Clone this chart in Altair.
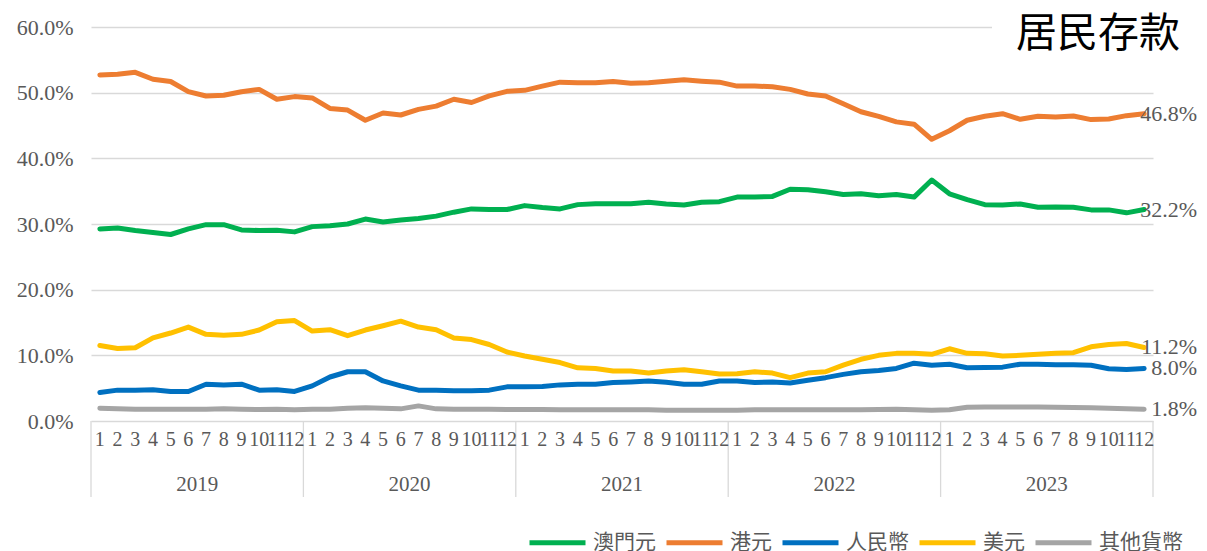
import altair as alt
import pandas as pd

years = ["2019", "2020", "2021", "2022", "2023"]
month_labels = [str(m) for m in range(1, 13)]
series_names = ["澳門元", "港元", "人民幣", "美元", "其他貨幣"]
series_colors = ["#00B050", "#ED7D31", "#0070C0", "#FFC000", "#A5A5A5"]
y_ticks = [0, 10, 20, 30, 40, 50, 60]
chart_title = "居民存款"

mop = [29.25, 29.4, 29.0, 28.7, 28.4, 29.25, 29.9, 29.9, 29.1, 29.0, 29.05, 28.8,
       29.6, 29.75, 30.0, 30.75, 30.3, 30.6, 30.85, 31.2, 31.8, 32.3, 32.2, 32.2,
       32.8, 32.5, 32.3, 32.95, 33.1, 33.1, 33.1, 33.3, 33.05, 32.9, 33.3, 33.4,
       34.1, 34.1, 34.2, 35.3, 35.2, 34.9, 34.5, 34.6, 34.3, 34.5, 34.1, 36.7,
       34.6, 33.7, 32.95, 32.9, 33.05, 32.55, 32.6, 32.55, 32.15, 32.15, 31.7, 32.2]
hkd = [52.7, 52.8, 53.1, 52.05, 51.7, 50.15, 49.5, 49.6, 50.15, 50.5, 49.0, 49.4,
       49.2, 47.6, 47.35, 45.8, 46.9, 46.6, 47.45, 47.95, 49.0, 48.5, 49.5, 50.2,
       50.35, 51.0, 51.6, 51.5, 51.5, 51.7, 51.45, 51.5, 51.75, 51.95, 51.75, 51.6,
       51.0, 51.0, 50.9, 50.5, 49.8, 49.5, 48.3, 47.1, 46.4, 45.55, 45.2, 42.9,
       44.2, 45.8, 46.4, 46.8, 45.95, 46.4, 46.3, 46.45, 45.9, 46.0, 46.5, 46.8]
rmb = [4.35, 4.7, 4.7, 4.75, 4.5, 4.5, 5.6, 5.5, 5.6, 4.7, 4.75, 4.5,
       5.35, 6.7, 7.5, 7.5, 6.1, 5.35, 4.7, 4.7, 4.6, 4.6, 4.7, 5.2,
       5.2, 5.25, 5.5, 5.6, 5.6, 5.85, 5.95, 6.1, 5.9, 5.6, 5.6, 6.1,
       6.1, 5.85, 5.95, 5.8, 6.2, 6.6, 7.1, 7.5, 7.7, 8.0, 8.8, 8.5,
       8.65, 8.1, 8.15, 8.2, 8.65, 8.65, 8.55, 8.55, 8.5, 7.95, 7.85, 8.0]
usd = [11.5, 11.05, 11.15, 12.65, 13.4, 14.3, 13.2, 13.05, 13.2, 13.85, 15.1, 15.3,
       13.7, 13.9, 13.0, 13.85, 14.5, 15.2, 14.3, 13.9, 12.65, 12.4, 11.65, 10.5,
       9.9, 9.4, 8.9, 8.1, 8.0, 7.6, 7.6, 7.3, 7.6, 7.8, 7.5, 7.15,
       7.2, 7.5, 7.3, 6.6, 7.3, 7.5, 8.5, 9.4, 10.0, 10.3, 10.3, 10.15,
       11.0, 10.3, 10.25, 9.9, 10.0, 10.15, 10.3, 10.4, 11.3, 11.65, 11.8, 11.2]
other = [1.95, 1.85, 1.8, 1.8, 1.8, 1.8, 1.8, 1.85, 1.8, 1.75, 1.8, 1.7,
         1.8, 1.8, 1.95, 2.0, 1.95, 1.85, 2.3, 1.85, 1.8, 1.8, 1.8, 1.75,
         1.75, 1.75, 1.7, 1.7, 1.7, 1.7, 1.7, 1.7, 1.65, 1.65, 1.65, 1.65,
         1.65, 1.7, 1.7, 1.7, 1.7, 1.7, 1.7, 1.7, 1.75, 1.8, 1.7, 1.65,
         1.7, 2.1, 2.15, 2.15, 2.15, 2.15, 2.1, 2.05, 2.0, 1.95, 1.85, 1.8]

W, H = 1062, 394
N = len(mop)

rows = []
for k, (name, vals) in enumerate(zip(series_names, [mop, hkd, rmb, usd, other])):
    for i, v in enumerate(vals):
        rows.append({"idx": i, "series": name, "value": v, "k": k})
df = pd.DataFrame(rows)
last_df = df[df["idx"] == N - 1].copy()

month_df = pd.DataFrame({"idx": list(range(N)), "label": month_labels * len(years)})
year_df = pd.DataFrame({"pos": [12 * k + 5.5 for k in range(len(years))], "year": years})
sep_df = pd.DataFrame({"pos": [12 * k - 0.5 for k in range(len(years) + 1)]})
title_df = pd.DataFrame({"t": [chart_title]})

xscale = alt.Scale(domain=[-0.5, N - 0.5], nice=False, zero=False)
yscale = alt.Scale(domain=[0, 60], nice=False)
GRAY = "#D9D9D9"
TXT = "#595959"
SERIF = "Liberation Serif"
CJK = "Noto Sans CJK TC"

lines = alt.Chart(df).mark_line(strokeWidth=5, strokeCap="round", strokeJoin="round").encode(
    x=alt.X("idx:Q", scale=xscale, axis=None),
    y=alt.Y("value:Q", scale=yscale,
            axis=alt.Axis(values=y_ticks, labelExpr="format(datum.value, '.1f') + '%'",
                          grid=True, gridColor=GRAY, gridWidth=1.3, domain=False, ticks=False,
                          labelPadding=18, labelFont=SERIF, labelFontSize=22, labelColor=TXT,
                          title=None)),
    color=alt.Color("series:N", sort=series_names,
                    scale=alt.Scale(domain=series_names, range=series_colors),
                    legend=alt.Legend(orient="none", legendX=436, legendY=485,
                                      direction="horizontal", title=None,
                                      symbolType="stroke", symbolStrokeWidth=5, symbolSize=3136,
                                      labelFont=CJK, labelFontSize=21,
                                      labelColor=TXT, labelOffset=5, columnPadding=0)),
    detail="series:N",
)

end_labels = alt.Chart(last_df).transform_calculate(
    lbl="format(datum.value, '.1f') + '%'"
).mark_text(align="right", baseline="middle", dx=53, font=SERIF, fontSize=22, color=TXT).encode(
    x=alt.X("idx:Q", scale=xscale, axis=None),
    y=alt.Y("value:Q", scale=yscale),
    text="lbl:N",
)

months = alt.Chart(month_df).mark_text(baseline="middle", font=SERIF, fontSize=20, color=TXT).encode(
    x=alt.X("idx:Q", scale=xscale, axis=None),
    y=alt.value(H + 19),
    text="label:N",
)

year_text = alt.Chart(year_df).mark_text(baseline="middle", font=SERIF, fontSize=21, color=TXT).encode(
    x=alt.X("pos:Q", scale=xscale, axis=None),
    y=alt.value(H + 64),
    text="year:N",
)

seps = alt.Chart(sep_df).mark_rule(color=GRAY, strokeWidth=1.3).encode(
    x=alt.X("pos:Q", scale=xscale, axis=None),
    y=alt.value(H),
    y2=alt.value(H + 76),
)

title_box = alt.Chart(title_df).mark_rect(color="white").encode(
    x=alt.value(W - 161), x2=alt.value(W + 46), y=alt.value(-12), y2=alt.value(40),
)
title_text = alt.Chart(title_df).mark_text(align="right", baseline="middle", font=CJK,
                                           fontSize=41, color="#000000").encode(
    x=alt.value(W + 27), y=alt.value(8), text="t:N",
)

chart = alt.layer(seps, title_box, lines, end_labels, months, year_text, title_text).properties(
    width=W, height=H,
    padding={"left": 83, "top": 19, "right": 46, "bottom": 130},
    autosize=alt.AutoSizeParams(type="none"),
).configure_view(stroke=None)

chart.save("out.html", embed_options={"renderer": "svg", "actions": False})
